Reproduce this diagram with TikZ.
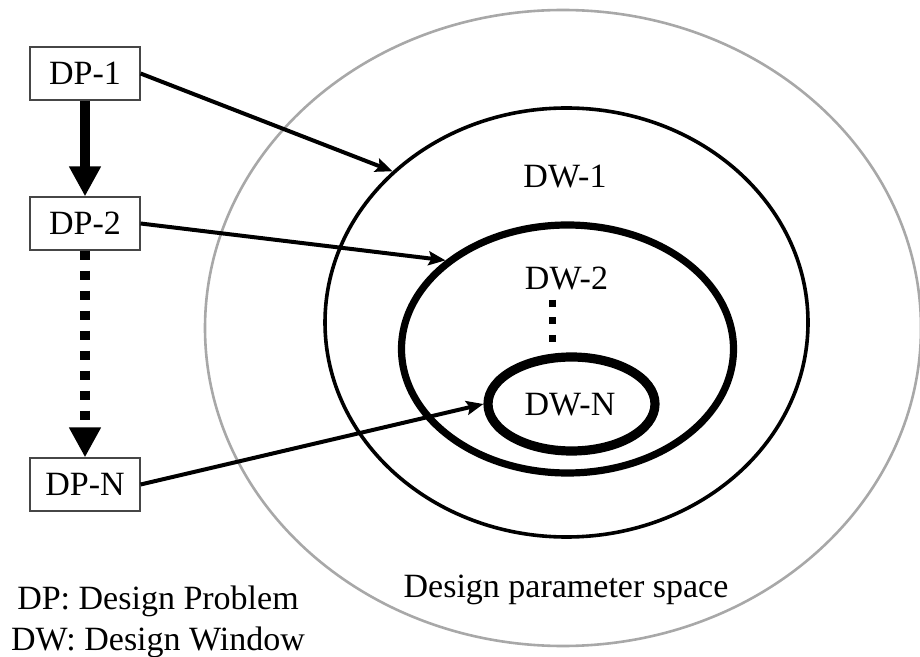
\documentclass[tikz,border=0pt]{standalone}
\usepackage{fontspec}
\setmainfont{Liberation Serif}
\usetikzlibrary{arrows.meta,shapes.geometric}
\definecolor{spacegray}{RGB}{168,168,168}
\definecolor{boxgray}{RGB}{70,70,70}
\begin{document}
\begin{tikzpicture}[x=0.5pt,y=-0.5pt,
  every node/.style={font=\fontsize{17pt}{20.5pt}\selectfont},
  dpbox/.style={draw=boxgray, line width=0.6pt, minimum width=55pt, minimum height=26.5pt, inner sep=0pt},
  region/.style={ellipse, draw, inner sep=0pt},
  link/.style={line width=2pt, -{Stealth[length=8.5pt,width=7pt,inset=1.5pt]}},
  flow/.style={line width=5pt, -{Triangle[length=15pt,width=15pt]}},
  skip/.style={flow, dash pattern=on 4.5pt off 5.5pt},
  dots/.style={line width=3.5pt, dash pattern=on 3.5pt off 5.25pt}
]
\useasboundingbox (0,0) rectangle (920,657);

% nested design windows inside the parameter space
\node[region, draw=spacegray, line width=1.3pt, minimum width=358pt, minimum height=318pt] (space) at (563,328) {};
\node[region, line width=1.8pt, minimum width=241.5pt, minimum height=214.5pt] (dw1) at (566.5,322.5) {};
\node[region, line width=3.6pt, minimum width=166pt, minimum height=124pt] (dw2) at (567.5,349) {};
\node[region, line width=4.6pt, minimum width=83.5pt, minimum height=47pt] (dwn) at (571.5,404) {};

% window labels
\node (l1) at (565,177) {DW-1};
\node (l2) at (566.5,278.5) {DW-2};
\node (ln) at (570,405) {DW-N};
\node[anchor=base] (lspace) at (566,597) {Design parameter space};
\draw[dots] (552,300) -- (552,342);

% design problems
\node[dpbox] (dp1) at (85,73.5) {DP-1};
\node[dpbox] (dp2) at (85,223.5) {DP-2};
\node[dpbox] (dpn) at (85,484.5) {DP-N};

\draw[flow] (dp1.south) -- (dp2.north);
\draw[skip] (dp2.south) -- (dpn.north);

% problems mapped to windows
\draw[link] (dp1.east) -- (dw1.139);
\draw[link] (dp2.east) -- (dw2.144);
\draw[link] (dpn.east) -- (dwn.180);

% legend
\node[align=center] (legend) at (158,622) {DP: Design Problem\\DW: Design Window};
\end{tikzpicture}
\end{document}
